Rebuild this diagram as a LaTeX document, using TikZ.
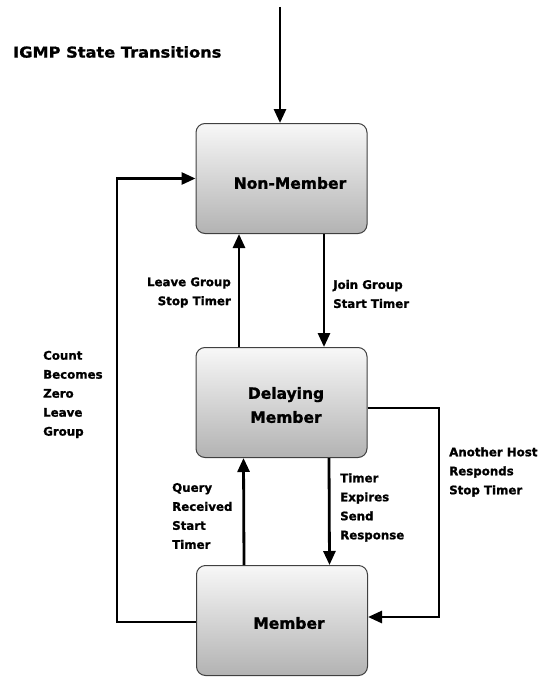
\documentclass[tikz,border=0pt]{standalone}
\usepackage{fontspec}
\setmainfont{DejaVu Sans}[BoldFeatures={FakeBold=1.2}]
\newfontfamily\titlefont{DejaVu Sans Bold}[FakeStretch=1.08,FakeBold=1.2]
\usetikzlibrary{arrows.meta}
\begin{document}
\begin{tikzpicture}[x=1pt,y=-1pt,
  statebox/.style={draw=black!75, line width=1pt, rounded corners=9pt,
    top color=black!3, bottom color=black!30, minimum width=171pt,
    minimum height=110pt, inner sep=0pt},
  statetext/.style={font=\bfseries\fontsize{15.5}{24}\selectfont, align=center, inner sep=0pt},
  lbl/.style={font=\bfseries\fontsize{11.8}{19}\selectfont, inner sep=0pt},
  arr/.style={line width=2.8pt, -{Triangle[length=14pt,width=12pt]}},
  ln/.style={line width=2.8pt}]
\useasboundingbox (0,0) rectangle (547,677);
\node[font=\titlefont\fontsize{15}{17}\selectfont, anchor=west, inner sep=0pt] (title) at (13,52) {IGMP State Transitions};
\node[statebox] (nm) at (281.5,178.5) {};
\node[statebox] (dm) at (281.5,402.5) {};
\node[statebox] (mem) at (282,620.5) {};
\node[statetext] (nmt) at (290,183) {Non-Member};
\node[statetext] (dmt) at (286,405) {Delaying\\Member};
\node[statetext] (memt) at (289,623) {Member};
\coordinate (start) at (280,7);
\draw[arr] (start) -- (start |- nm.north);
\draw[arr] ([xshift=-42.5pt]dm.north) -- ([xshift=-42.5pt]nm.south);
\draw[arr] ([xshift=42.5pt]nm.south) -- ([xshift=42.5pt]dm.north);
\draw[arr] ([xshift=-38pt]mem.north) -- ([xshift=-38pt]dm.south);
\draw[arr] ([xshift=47.5pt]dm.south) -- ([xshift=47.5pt]mem.north);
\coordinate (lx) at (117,0);
\coordinate (rx) at (439,0);
\draw[arr] ([yshift=-1.5pt]mem.west) -| (lx |- nm.west) -- (nm.west);
\draw[arr] ([yshift=-5.5pt]dm.east) -| (rx |- 0,617) -- ([yshift=3.5pt]mem.east);
\node[lbl, anchor=east, align=right] (l1) at (231,292.5) {Leave Group\\Stop Timer};
\node[lbl, anchor=west, align=left] (l2) at (333,294) {Join Group\\Start Timer};
\node[lbl, anchor=west, align=left] (l3) at (43,394.5) {Count\\Becomes\\Zero\\Leave\\Group};
\node[lbl, anchor=west, align=left] (l4) at (449,472) {Another Host\\Responds\\Stop Timer};
\node[lbl, anchor=west, align=left] (l5) at (172,516) {Query\\Received\\Start\\Timer};
\node[lbl, anchor=west, align=left] (l6) at (340,507.5) {Timer\\Expires\\Send\\Response};
\end{tikzpicture}
\end{document}
